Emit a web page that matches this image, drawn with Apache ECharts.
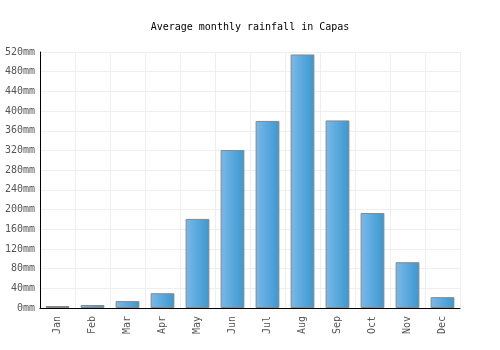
<!DOCTYPE html>
<html>
<head>
<meta charset="utf-8">
<script src="https://cdn.jsdelivr.net/npm/echarts@6/dist/echarts.min.js"></script>
<style>
  html, body { margin: 0; padding: 0; background: #fff; }
  #chart { width: 500px; height: 350px; }
</style>
</head>
<body>
<div id="chart"></div>
<script>
const months = ['Jan', 'Feb', 'Mar', 'Apr', 'May', 'Jun', 'Jul', 'Aug', 'Sep', 'Oct', 'Nov', 'Dec'];
const rainfall = [4, 6, 14, 30, 181, 321, 380, 515, 381, 193, 93, 22];
const yTicks = { min: 0, max: 520, step: 40 };

const FONT = '"DejaVu Sans Mono", monospace';

const chart = echarts.init(document.getElementById('chart'), null, { renderer: 'canvas' });

chart.setOption({
  animation: false,
  title: {
    text: 'Average monthly rainfall in Capas',
    left: 'center',
    top: 17,
    textStyle: { fontFamily: FONT, fontSize: 10, fontWeight: 'normal', color: '#000' },
  },
  grid: { left: 40, right: 40, top: 52, bottom: 42 },
  xAxis: {
    type: 'category',
    data: months,
    axisLine: { lineStyle: { color: '#000', width: 1 } },
    axisTick: { show: false },
    splitLine: { show: true, lineStyle: { color: '#eeeeee' } },
    axisLabel: {
      rotate: 90,
      color: '#555',
      fontFamily: FONT,
      fontSize: 10,
      margin: 8,
    },
  },
  yAxis: {
    type: 'value',
    min: yTicks.min,
    max: yTicks.max,
    interval: yTicks.step,
    axisLine: { show: true, lineStyle: { color: '#000', width: 1 } },
    axisTick: { show: false },
    splitLine: { lineStyle: { color: '#eeeeee' } },
    axisLabel: {
      formatter: '{value}mm',
      color: '#555',
      fontFamily: FONT,
      fontSize: 10,
      margin: 5,
    },
  },
  series: [
    {
      type: 'bar',
      data: rainfall,
      barWidth: '68%',
      itemStyle: {
        borderColor: '#888',
        borderWidth: 1,
        color: new echarts.graphic.LinearGradient(0, 0, 1, 0, [
          { offset: 0, color: '#7ab9ea' },
          { offset: 1, color: '#3a98d0' },
        ]),
      },
    },
  ],
});
</script>
</body>
</html>
